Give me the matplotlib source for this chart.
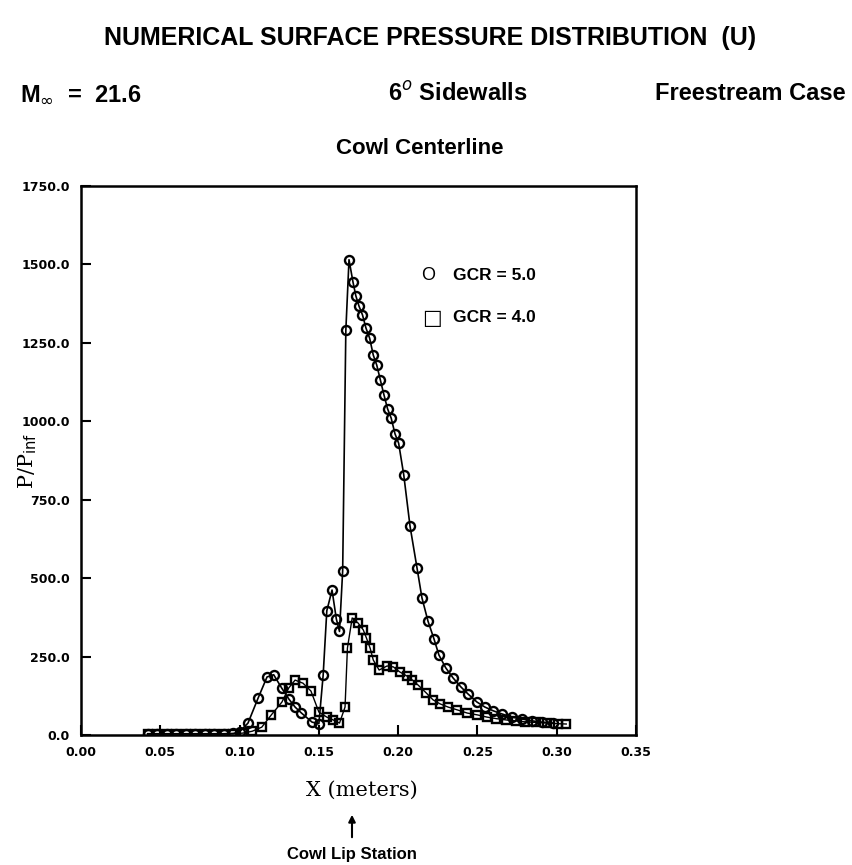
import numpy as np
import matplotlib.pyplot as plt

# GCR = 5.0 (circles)
x_gcr5 = [0.042, 0.048, 0.054, 0.060, 0.066, 0.072, 0.078, 0.084, 0.090, 0.096,
          0.100, 0.1053, 0.1117, 0.1173, 0.1215, 0.1265, 0.131, 0.135, 0.139, 0.1457,
          0.150, 0.1527, 0.155, 0.1583, 0.161, 0.163, 0.165, 0.167, 0.169, 0.1715,
          0.1733, 0.1753, 0.1775, 0.1797, 0.182, 0.1843, 0.1865, 0.1888, 0.191, 0.1933,
          0.1956, 0.198, 0.2003, 0.2035, 0.2075, 0.2119, 0.215, 0.2188, 0.2226,
          0.2257, 0.230, 0.2346, 0.2396, 0.244, 0.2497, 0.2547, 0.260, 0.2655, 0.2718,
          0.278, 0.2845, 0.2907, 0.2977]
p_gcr5 = [4, 4, 4, 4, 4, 4, 4, 4, 4, 5,
          10, 38, 118, 185, 192, 150, 115, 89, 70, 41,
          36, 191, 396, 462, 370, 330, 523, 1290, 1515, 1444,
          1400, 1367, 1339, 1297, 1265, 1211, 1179, 1131, 1085, 1040,
          1010, 960, 930, 830, 665, 532, 437, 363, 306,
          255, 214, 182, 153, 131, 105, 89, 77, 67, 57,
          51, 45, 41, 38]

# GCR = 4.0 (squares)
x_gcr4 = [0.042, 0.048, 0.054, 0.060, 0.066, 0.072, 0.078, 0.084, 0.090, 0.096,
          0.102, 0.108, 0.114, 0.120, 0.1267, 0.131, 0.135, 0.140, 0.145, 0.150,
          0.155, 0.159, 0.163, 0.1665, 0.168, 0.171, 0.1747, 0.178, 0.180, 0.1823,
          0.1843, 0.188, 0.193, 0.197, 0.201, 0.2055, 0.209, 0.2126, 0.2177, 0.222,
          0.2265, 0.2315, 0.2373, 0.2435, 0.250, 0.256, 0.262, 0.268, 0.274, 0.280,
          0.287, 0.294, 0.301, 0.306]
p_gcr4 = [3, 3, 3, 3, 3, 3, 3, 3, 3, 4,
          6, 12, 25, 64, 105, 150, 175, 165, 140, 73,
          57, 48, 38, 89, 277, 373, 357, 335, 309, 277,
          239, 207, 220, 217, 201, 188, 175, 159, 134, 112,
          99, 89, 80, 70, 64, 57, 52, 48, 45, 42,
          40, 38, 36, 35]

xticks = [0.00, 0.05, 0.10, 0.15, 0.20, 0.25, 0.30, 0.35]
yticks = [0.0, 250.0, 500.0, 750.0, 1000.0, 1250.0, 1500.0, 1750.0]

fig = plt.figure(figsize=(8.52, 8.65), dpi=100)
ax = fig.add_axes([0.0951, 0.1503, 0.6514, 0.6347])

ax.plot(x_gcr5, p_gcr5, color='black', linewidth=1.2, marker='o', markersize=6.5,
        markerfacecolor='none', markeredgecolor='black', markeredgewidth=1.7)
ax.plot(x_gcr4, p_gcr4, color='black', linewidth=1.0, marker='s', markersize=6,
        markerfacecolor='none', markeredgecolor='black', markeredgewidth=1.7)

ax.set_xlim(0.0, 0.35)
ax.set_ylim(0.0, 1750.0)
ax.set_xticks(xticks)
ax.set_yticks(yticks)
tick_font = {'family': 'DejaVu Sans', 'weight': 'bold', 'size': 9}
ax.set_xticklabels([f"{v:.2f}" for v in xticks], fontdict=tick_font)
ax.set_yticklabels([f"{v:.1f}" for v in yticks], fontdict=tick_font)
ax.tick_params(direction='in', length=7, width=1.5, pad=8)
for s in ax.spines.values():
    s.set_linewidth(1.8)

# legend drawn by hand
fig.text(428 / 852, 1 - 276 / 865, 'O', ha='center', va='center', fontsize=13,
         family='Liberation Sans')
fig.text(453 / 852, 1 - 276 / 865, 'GCR = 5.0', ha='left', va='center', fontsize=12.5,
         family='Liberation Sans', weight='bold')
fig.text(432 / 852, 1 - 318 / 865, '\u25a1', ha='center', va='center', fontsize=15,
         family='DejaVu Sans')
fig.text(453 / 852, 1 - 318 / 865, 'GCR = 4.0', ha='left', va='center', fontsize=12.5,
         family='Liberation Sans', weight='bold')

fig.text(0.505, 1 - 38 / 865, 'NUMERICAL SURFACE PRESSURE DISTRIBUTION  (U)',
         ha='center', va='center', fontsize=18, family='Liberation Sans', weight='bold')
fig.text(20 / 852, 1 - 94 / 865, r'M$_\infty$  =  21.6', ha='left', va='center',
         fontsize=17, family='Liberation Sans', weight='bold')
fig.text(458 / 852, 1 - 94 / 865, '6$^o$ Sidewalls', ha='center', va='center',
         fontsize=17, family='Liberation Sans', weight='bold')
fig.text(846 / 852, 1 - 94 / 865, 'Freestream Case', ha='right', va='center',
         fontsize=17, family='Liberation Sans', weight='bold')
fig.text(420 / 852, 1 - 149 / 865, 'Cowl Centerline', ha='center', va='center',
         fontsize=16, family='Liberation Sans', weight='bold')

fig.text(28 / 852, 1 - 461 / 865, r'P/P$_{\rm inf}$', rotation=90, ha='center',
         va='center', fontsize=15, family='DejaVu Serif')
fig.text(362 / 852, 1 - 790 / 865, 'X (meters)', ha='center', va='center',
         fontsize=15, family='DejaVu Serif')

ax.annotate('', xy=(352 / 852, 1 - 812 / 865), xytext=(352 / 852, 1 - 840 / 865),
            xycoords='figure fraction', textcoords='figure fraction',
            arrowprops=dict(arrowstyle='-|>', color='black', lw=1.5))
fig.text(352 / 852, 1 - 855 / 865, 'Cowl Lip Station', ha='center', va='center',
         fontsize=12, family='Liberation Sans', weight='bold')

fig.savefig('out.png', dpi=100)
